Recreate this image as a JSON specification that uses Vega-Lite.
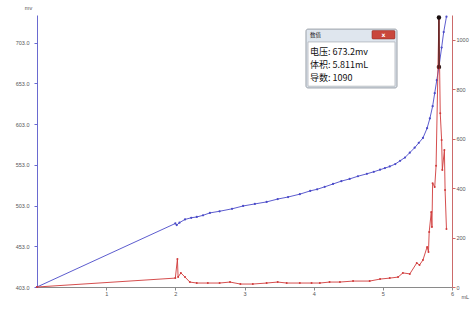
{
  "$schema": "https://vega.github.io/schema/vega-lite/v6.json",
  "width": 415,
  "height": 272,
  "autosize": {"type": "none"},
  "padding": {"left": 37, "top": 15, "right": 23, "bottom": 23},
  "background": "white",
  "config": {
    "view": {"stroke": null},
    "axis": {
      "grid": false,
      "labelFont": "Liberation Sans",
      "labelFontSize": 5.5,
      "labelColor": "#555555",
      "titleFont": "Liberation Sans",
      "titleFontSize": 5.5,
      "titleFontWeight": "normal",
      "titleColor": "#555555",
      "tickSize": 3
    }
  },
  "datasets": {
    "volt": [
      {"volume": 0, "voltage": 403},
      {"volume": 2.0, "voltage": 481},
      {"volume": 2.02, "voltage": 479},
      {"volume": 2.06, "voltage": 482},
      {"volume": 2.14, "voltage": 486},
      {"volume": 2.23, "voltage": 488},
      {"volume": 2.31, "voltage": 489},
      {"volume": 2.4, "voltage": 491},
      {"volume": 2.5, "voltage": 494},
      {"volume": 2.64, "voltage": 496},
      {"volume": 2.82, "voltage": 499},
      {"volume": 2.98, "voltage": 502.5},
      {"volume": 3.15, "voltage": 505},
      {"volume": 3.32, "voltage": 507.5},
      {"volume": 3.48, "voltage": 511},
      {"volume": 3.63, "voltage": 513.5},
      {"volume": 3.8, "voltage": 517},
      {"volume": 3.95, "voltage": 521},
      {"volume": 4.05, "voltage": 523},
      {"volume": 4.16, "voltage": 526},
      {"volume": 4.28, "voltage": 529.5},
      {"volume": 4.4, "voltage": 533},
      {"volume": 4.52, "voltage": 535.7},
      {"volume": 4.64, "voltage": 539},
      {"volume": 4.77, "voltage": 542},
      {"volume": 4.87, "voltage": 544.5},
      {"volume": 4.96, "voltage": 547},
      {"volume": 5.03, "voltage": 549},
      {"volume": 5.1, "voltage": 551},
      {"volume": 5.18, "voltage": 554},
      {"volume": 5.25, "voltage": 558},
      {"volume": 5.32, "voltage": 562},
      {"volume": 5.39, "voltage": 568},
      {"volume": 5.46, "voltage": 574},
      {"volume": 5.52, "voltage": 580},
      {"volume": 5.58, "voltage": 586},
      {"volume": 5.64, "voltage": 598},
      {"volume": 5.68, "voltage": 610},
      {"volume": 5.72, "voltage": 625},
      {"volume": 5.75, "voltage": 641},
      {"volume": 5.78, "voltage": 657},
      {"volume": 5.811, "voltage": 673.2},
      {"volume": 5.85, "voltage": 697},
      {"volume": 5.88, "voltage": 716},
      {"volume": 5.92, "voltage": 735}
    ],
    "deriv": [
      {"volume": 0, "deriv": 0},
      {"volume": 2.0, "deriv": 36},
      {"volume": 2.03, "deriv": 113},
      {"volume": 2.04, "deriv": 40},
      {"volume": 2.08, "deriv": 57},
      {"volume": 2.14, "deriv": 40},
      {"volume": 2.21, "deriv": 20},
      {"volume": 2.31, "deriv": 16},
      {"volume": 2.47, "deriv": 16},
      {"volume": 2.64, "deriv": 16},
      {"volume": 2.79, "deriv": 20},
      {"volume": 2.94, "deriv": 12},
      {"volume": 3.12, "deriv": 12},
      {"volume": 3.32, "deriv": 16},
      {"volume": 3.48, "deriv": 20},
      {"volume": 3.61, "deriv": 16},
      {"volume": 3.8, "deriv": 16},
      {"volume": 3.97, "deriv": 16},
      {"volume": 4.09, "deriv": 16},
      {"volume": 4.23, "deriv": 20},
      {"volume": 4.38, "deriv": 20},
      {"volume": 4.57, "deriv": 24},
      {"volume": 4.81, "deriv": 24},
      {"volume": 4.96, "deriv": 32},
      {"volume": 5.1, "deriv": 36},
      {"volume": 5.22, "deriv": 40},
      {"volume": 5.29, "deriv": 57},
      {"volume": 5.39, "deriv": 53},
      {"volume": 5.49, "deriv": 97},
      {"volume": 5.53, "deriv": 89},
      {"volume": 5.58, "deriv": 109},
      {"volume": 5.64, "deriv": 162},
      {"volume": 5.66, "deriv": 142},
      {"volume": 5.67, "deriv": 222},
      {"volume": 5.7, "deriv": 303},
      {"volume": 5.71, "deriv": 243},
      {"volume": 5.72, "deriv": 420},
      {"volume": 5.75, "deriv": 404},
      {"volume": 5.77, "deriv": 490},
      {"volume": 5.811, "deriv": 1090},
      {"volume": 5.83, "deriv": 703},
      {"volume": 5.85, "deriv": 594},
      {"volume": 5.86, "deriv": 473},
      {"volume": 5.89, "deriv": 554},
      {"volume": 5.9, "deriv": 392},
      {"volume": 5.92, "deriv": 235}
    ]
  },
  "layer": [
    {
      "layer": [
        {
          "data": {"name": "volt"},
          "mark": {"type": "line", "color": "#4a4ac8", "strokeWidth": 0.9,
                   "point": {"filled": true, "size": 5, "color": "#4a4ac8"}},
          "encoding": {
            "x": {"field": "volume", "type": "quantitative", "title": "mL",
                  "scale": {"domain": [0, 6], "nice": false, "zero": false},
                  "axis": {"values": [1, 2, 3, 4, 5, 6], "format": "d", "titleAngle": 0,
                           "titleX": 424, "titleY": 9, "titleAlign": "left", "titleBaseline": "middle",
                           "domainColor": "#8a8a8a", "tickColor": "#8a8a8a", "labelPadding": 1,
                           "labelFlush": false}},
            "y": {"field": "voltage", "type": "quantitative", "title": "mv",
                  "scale": {"domain": [403, 737], "nice": false, "zero": false},
                  "axis": {"orient": "left", "values": [403, 453, 503, 553, 603, 653, 703], "format": ".1f",
                           "titleAngle": 0, "titleX": -9, "titleY": -8,
                           "titleAlign": "center", "titleBaseline": "middle",
                           "domainColor": "#6a6ad0", "tickColor": "#6a6ad0", "labelPadding": 5}}
          }
        },
        {
          "data": {"values": [{"volume": 5.811, "voltage": 673.2}]},
          "mark": {"type": "point", "filled": true, "color": "#1a1010", "size": 20, "opacity": 1},
          "encoding": {
            "x": {"field": "volume", "type": "quantitative", "title": "mL"},
            "y": {"field": "voltage", "type": "quantitative", "title": "mv"}
          }
        }
      ]
    },
    {
      "layer": [
        {
          "data": {"name": "deriv"},
          "mark": {"type": "line", "color": "#d03a3a", "strokeWidth": 0.9,
                   "point": {"filled": true, "size": 4, "color": "#d03a3a"}},
          "encoding": {
            "x": {"field": "volume", "type": "quantitative", "title": "mL"},
            "y": {"field": "deriv", "type": "quantitative", "title": null,
                  "scale": {"domain": [0, 1100], "nice": false, "zero": true},
                  "axis": {"orient": "right", "values": [0, 100, 200, 300, 400, 500, 600, 700, 800, 900, 1000, 1100],
                           "format": "d",
                           "domainColor": "#cc6a6a", "tickColor": "#cc6a6a", "labelPadding": 1}}
          }
        },
        {
          "data": {"values": [{"volume": 5.811, "lo": 885, "hi": 1090}]},
          "mark": {"type": "rule", "color": "#4a1c1c", "strokeWidth": 1.4},
          "encoding": {
            "x": {"field": "volume", "type": "quantitative", "title": "mL"},
            "y": {"field": "lo", "type": "quantitative", "title": null},
            "y2": {"field": "hi"}
          }
        },
        {
          "data": {"values": [{"volume": 5.811, "deriv": 1090}]},
          "mark": {"type": "point", "filled": true, "color": "#1a1010", "size": 20, "opacity": 1},
          "encoding": {
            "x": {"field": "volume", "type": "quantitative", "title": "mL"},
            "y": {"field": "deriv", "type": "quantitative", "title": null}
          }
        },
        {
          "data": {"values": [{}]},
          "mark": {"type": "rect", "fill": "#dfe6ee", "stroke": "#9aa0a8", "strokeWidth": 1, "cornerRadius": 2},
          "encoding": {
            "x": {"datum": 3.889, "type": "quantitative", "title": "mL"},
            "x2": {"datum": 5.205},
            "y": {"datum": 1043, "type": "quantitative", "title": null},
            "y2": {"datum": 805}
          }
        },
        {
          "data": {"values": [{}]},
          "mark": {"type": "rect", "fill": "#ffffff", "stroke": "#b0b4ba", "strokeWidth": 0.8},
          "encoding": {
            "x": {"datum": 3.918, "type": "quantitative", "title": "mL"},
            "x2": {"datum": 5.176},
            "y": {"datum": 991, "type": "quantitative", "title": null},
            "y2": {"datum": 812}
          }
        },
        {
          "data": {"values": [{}]},
          "mark": {"type": "rect", "fill": "#c9473c", "stroke": "#8a2a22", "strokeWidth": 0.5, "cornerRadius": 1},
          "encoding": {
            "x": {"datum": 4.843, "type": "quantitative", "title": "mL"},
            "x2": {"datum": 5.176},
            "y": {"datum": 1037, "type": "quantitative", "title": null},
            "y2": {"datum": 1003}
          }
        },
        {
          "data": {"values": [{}]},
          "mark": {"type": "text", "text": "x", "color": "#ffffff", "font": "DejaVu Sans", "fontSize": 6, "fontWeight": "bold", "align": "center", "baseline": "middle"},
          "encoding": {
            "x": {"datum": 5.01, "type": "quantitative", "title": "mL"},
            "y": {"datum": 1021, "type": "quantitative", "title": null}
          }
        },
        {
          "data": {"values": [{}]},
          "mark": {"type": "text", "text": "数值", "color": "#222222", "font": "Noto Sans CJK SC", "fontSize": 5.5, "align": "left", "baseline": "middle"},
          "encoding": {
            "x": {"datum": 3.947, "type": "quantitative", "title": "mL"},
            "y": {"datum": 1021, "type": "quantitative", "title": null}
          }
        },
        {
          "data": {"values": [{"line": "电压: 673.2mv", "pos": 950}, {"line": "体积: 5.811mL", "pos": 898}, {"line": "导数: 1090", "pos": 845}]},
          "mark": {"type": "text", "color": "#111111", "font": "Noto Sans CJK SC", "fontSize": 9, "align": "left", "baseline": "middle"},
          "encoding": {
            "x": {"datum": 3.947, "type": "quantitative", "title": "mL"},
            "y": {"field": "pos", "type": "quantitative", "title": null},
            "text": {"field": "line"}
          }
        }
      ]
    }
  ],
  "resolve": {"scale": {"y": "independent"}, "axis": {"y": "independent"}}
}
